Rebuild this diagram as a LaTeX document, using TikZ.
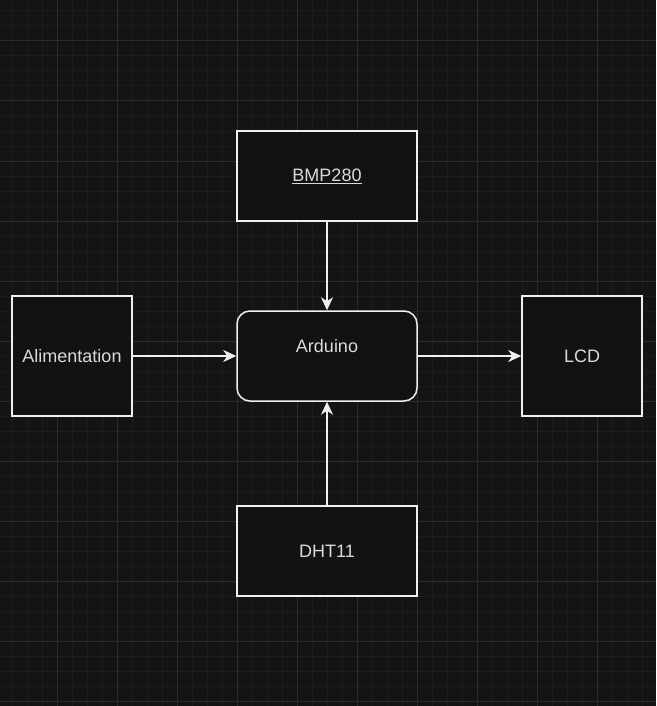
\documentclass[tikz,border=0pt]{standalone}
\usepackage{fontspec}
\setmainfont{Liberation Sans}
\usetikzlibrary{arrows.meta}
\definecolor{bg}{HTML}{141414}
\definecolor{boxfill}{HTML}{121212}
\definecolor{gminor}{HTML}{1C1C1C}
\definecolor{gmajor}{HTML}{2C2C2C}
\definecolor{edge}{HTML}{F0F0F0}
\definecolor{txt}{HTML}{DADADA}
\tikzset{
  minorline/.style={gminor, line width=1pt},
  majorline/.style={gmajor, line width=1pt},
  box/.style={draw=edge, fill=boxfill, line width=1.5pt, rectangle, inner sep=0pt,
    text=txt, font=\fontsize{18}{22}\selectfont},
  lbl/.style={text=txt, font=\fontsize{18}{22}\selectfont, inner sep=0pt},
  arr/.style={draw=edge, line width=1.5pt, -{Stealth[length=13pt,width=12pt,inset=4pt]}}
}
\begin{document}
\begin{tikzpicture}[x=1pt,y=-1pt]
\fill[bg] (0,0) rectangle (656,706);
\useasboundingbox (0,0) rectangle (656,706);
\foreach \x in {12,27,...,656} \draw[minorline] (\x,0) -- (\x,706);
\foreach \y in {11,26,...,706} \draw[minorline] (0,\y) -- (656,\y);
\foreach \x in {57,117,...,656} \draw[majorline] (\x,0) -- (\x,706);
\foreach \y in {41,101,...,706} \draw[majorline] (0,\y) -- (656,\y);

\node[box, minimum width=180pt, minimum height=90pt] (bmp) at (327,176) {\underline{BMP280}};
\node[box, minimum width=180pt, minimum height=90pt, rounded corners=13pt] (ard) at (327,356) {};
\node[lbl] (ardlabel) at (327,346) {Arduino};
\node[box, minimum width=120pt, minimum height=120pt] (alim) at (72,356) {Alimentation};
\node[box, minimum width=120pt, minimum height=120pt] (lcd) at (582,356) {LCD};
\node[box, minimum width=180pt, minimum height=90pt] (dht) at (327,551) {DHT11};

\draw[arr] (bmp.south) -- (ard.north);
\draw[arr] (dht.north) -- (ard.south);
\draw[arr] (alim.east) -- (ard.west);
\draw[arr] (ard.east) -- (lcd.west);
\end{tikzpicture}
\end{document}
